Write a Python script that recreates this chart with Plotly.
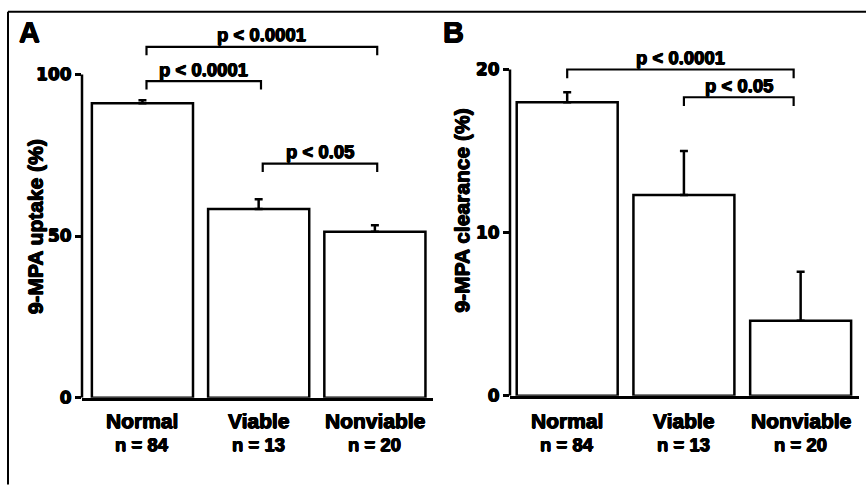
import plotly.graph_objects as go

# ---- data ----
categories = ["Normal", "Viable", "Nonviable"]
n_labels = ["n = 84", "n = 13", "n = 20"]
uptake = [91.1, 58.4, 51.3]
uptake_err = [0.9, 3.0, 2.0]
clearance = [18.0, 12.3, 4.6]
clearance_err = [0.6, 2.7, 3.0]
uptake_ticks = [0, 50, 100]
clearance_ticks = [0, 10, 20]
# (from index, to index, bracket height, label)
uptake_brackets = [(0, 2, 108.5, "p < 0.0001"), (0, 1, 97.9, "p < 0.0001"), (1, 2, 72.4, "p < 0.05")]
clearance_brackets = [(0, 2, 20.0, "p < 0.0001"), (1, 2, 18.3, "p < 0.05")]

FONT = "Arial, Liberation Sans, sans-serif"
TICKFONT = "DejaVu Sans"
BLACK = "#000000"
HEAVY = "0.6px 0 0 #000, -0.6px 0 0 #000, 0 0.5px 0 #000, 0 -0.5px 0 #000"
W, H = 866, 485

def px_x(p):
    return p / W

def px_y(p):
    return 1 - p / H

def b(s):
    return "<b>" + s + "</b>"

def f(size, fam=FONT):
    return dict(family=fam, size=size, color=BLACK, shadow=HEAVY)

fig = go.Figure()
xpos = list(range(len(categories)))

# bars
fig.add_trace(go.Bar(
    x=xpos, y=uptake, width=0.87, xaxis="x", yaxis="y",
    marker=dict(color="white", line=dict(color=BLACK, width=2.5)),
    error_y=dict(type="data", array=uptake_err, arrayminus=[0] * 3, symmetric=False,
                 color=BLACK, thickness=2.5, width=4),
    hoverinfo="skip",
))
fig.add_trace(go.Bar(
    x=xpos, y=clearance, width=0.865, xaxis="x2", yaxis="y2",
    marker=dict(color="white", line=dict(color=BLACK, width=2.5)),
    error_y=dict(type="data", array=clearance_err, arrayminus=[0] * 3, symmetric=False,
                 color=BLACK, thickness=2.5, width=4),
    hoverinfo="skip",
))

annotations = []

def add_brackets(brackets, xa, ya, drop, off_l, off_r, yshift):
    for (i, j, yb, lab) in brackets:
        x0, x1 = i + off_l, j + off_r
        fig.add_trace(go.Scatter(
            x=[x0, x0, x1, x1], y=[yb - drop, yb, yb, yb - drop],
            mode="lines", line=dict(color=BLACK, width=2.2),
            xaxis=xa, yaxis=ya, hoverinfo="skip", cliponaxis=False,
        ))
        annotations.append(dict(
            x=(x0 + x1) / 2, y=yb, xref=xa, yref=ya, text=b(lab), showarrow=False,
            yanchor="middle", yshift=yshift, font=f(18.5),
        ))

add_brackets(uptake_brackets, "x", "y", 2.6, 0.035, 0.02, 12)
add_brackets(clearance_brackets, "x2", "y2", 0.54, 0.0, -0.06, 12)

# x category labels
for xa in ["x", "x2"]:
    for k, (c, n) in enumerate(zip(categories, n_labels)):
        annotations.append(dict(
            x=k, y=px_y(429), xref=xa, yref="paper", text=b(c), showarrow=False,
            yanchor="middle", font=f(21),
        ))
        annotations.append(dict(
            x=k, y=px_y(454), xref=xa, yref="paper", text=b(n), showarrow=False,
            yanchor="middle", font=f(18.5),
        ))

# y titles
annotations.append(dict(
    x=px_x(35), y=px_y(232), xref="paper", yref="paper", text=b("9-MPA uptake (%)"),
    textangle=-90, showarrow=False, xanchor="center", yanchor="middle", font=f(21),
))
annotations.append(dict(
    x=px_x(462), y=px_y(215), xref="paper", yref="paper", text=b("9-MPA clearance (%)"),
    textangle=-90, showarrow=False, xanchor="center", yanchor="middle", font=f(21),
))

# panel letters
for lab, cx in [("A", 29), ("B", 453)]:
    annotations.append(dict(
        x=px_x(cx), y=px_y(33), xref="paper", yref="paper", text=b(lab), showarrow=False,
        xanchor="center", yanchor="middle", font=f(29),
    ))

shapes = [
    # y axis lines only up to last tick
    dict(type="line", xref="x domain", yref="y", x0=0, x1=0, y0=0, y1=uptake_ticks[-1],
         line=dict(color=BLACK, width=2.5)),
    dict(type="line", xref="x2 domain", yref="y2", x0=0, x1=0, y0=0, y1=clearance_ticks[-1],
         line=dict(color=BLACK, width=2.5)),
    # outer frame (top and left)
    dict(type="line", xref="paper", yref="paper", x0=px_x(8), x1=1.01, y0=px_y(12), y1=px_y(12),
         line=dict(color=BLACK, width=2)),
    dict(type="line", xref="paper", yref="paper", x0=px_x(8), x1=px_x(8), y0=px_y(12), y1=-0.02,
         line=dict(color=BLACK, width=2)),
]

tickfont = f(17, TICKFONT)

fig.update_layout(
    width=W, height=H,
    margin=dict(l=0, r=0, t=0, b=0),
    paper_bgcolor="white", plot_bgcolor="white",
    showlegend=False,
    barmode="overlay",
    xaxis=dict(domain=[px_x(82), px_x(433)], range=[-0.52, 2.5], showline=True,
               linecolor=BLACK, linewidth=2.5, showticklabels=False, ticks="",
               showgrid=False, zeroline=False, fixedrange=True),
    yaxis=dict(domain=[px_y(406), px_y(36.4)], range=[0, 112], tickvals=uptake_ticks,
               ticktext=[b(str(t)) for t in uptake_ticks],
               ticks="outside", ticklen=6, tickwidth=2.5, tickcolor=BLACK, tickfont=tickfont,
               showline=False, showgrid=False, zeroline=False, fixedrange=True),
    xaxis2=dict(domain=[px_x(510), px_x(859)], range=[-0.49, 2.5], showline=True,
                linecolor=BLACK, linewidth=2.5, showticklabels=False, ticks="",
                showgrid=False, zeroline=False, anchor="y2", fixedrange=True),
    yaxis2=dict(domain=[px_y(404), px_y(46)], range=[0, 21.5], tickvals=clearance_ticks,
                ticktext=[b(str(t)) for t in clearance_ticks],
                ticks="outside", ticklen=6, tickwidth=2.5, tickcolor=BLACK, tickfont=tickfont,
                showline=False, showgrid=False, zeroline=False, anchor="x2", fixedrange=True),
    annotations=annotations,
    shapes=shapes,
)

page_fix = (
    "var de=document.documentElement,bd=document.body;"
    "[de,bd].forEach(function(e){e.style.margin='0';e.style.padding='0';"
    "e.style.overflow='hidden';e.style.height='485px';});"
)
fig.write_html("out.html", config={"displayModeBar": False}, post_script=page_fix)
